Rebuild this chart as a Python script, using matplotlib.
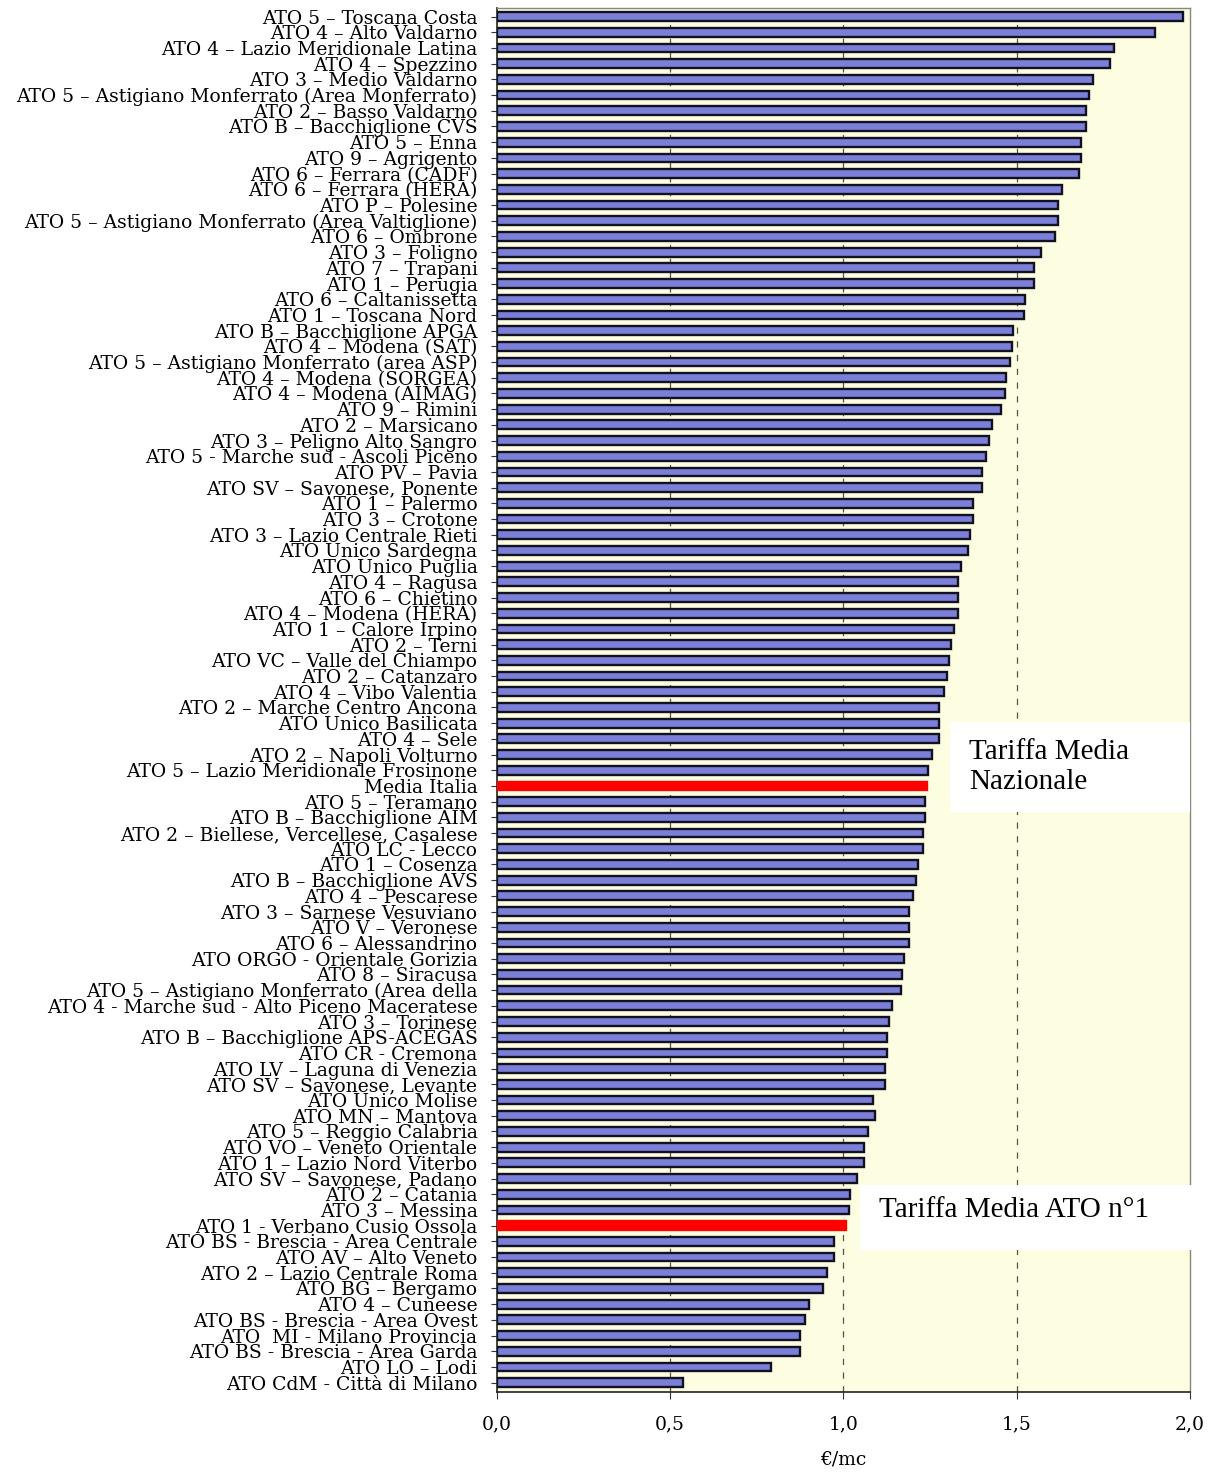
import matplotlib
matplotlib.use("Agg")
import matplotlib.pyplot as plt
from matplotlib.patches import Rectangle

categories = [
    "ATO 5 – Toscana Costa", "ATO 4 – Alto Valdarno", "ATO 4 – Lazio Meridionale Latina",
    "ATO 4 – Spezzino", "ATO 3 – Medio Valdarno", "ATO 5 – Astigiano Monferrato (Area Monferrato)",
    "ATO 2 – Basso Valdarno", "ATO B – Bacchiglione CVS", "ATO 5 – Enna", "ATO 9 – Agrigento",
    "ATO 6 – Ferrara (CADF)", "ATO 6 – Ferrara (HERA)", "ATO P – Polesine",
    "ATO 5 – Astigiano Monferrato (Area Valtiglione)", "ATO 6 – Ombrone", "ATO 3 – Foligno",
    "ATO 7 – Trapani", "ATO 1 – Perugia", "ATO 6 – Caltanissetta", "ATO 1 – Toscana Nord",
    "ATO B – Bacchiglione APGA", "ATO 4 – Modena (SAT)", "ATO 5 – Astigiano Monferrato (area ASP)",
    "ATO 4 – Modena (SORGEA)", "ATO 4 – Modena (AIMAG)", "ATO 9 – Rimini", "ATO 2 – Marsicano",
    "ATO 3 – Peligno Alto Sangro", "ATO 5 - Marche sud - Ascoli Piceno", "ATO PV – Pavia",
    "ATO SV – Savonese, Ponente", "ATO 1 – Palermo", "ATO 3 – Crotone",
    "ATO 3 – Lazio Centrale Rieti", "ATO Unico Sardegna", "ATO Unico Puglia", "ATO 4 – Ragusa",
    "ATO 6 – Chietino", "ATO 4 – Modena (HERA)", "ATO 1 – Calore Irpino", "ATO 2 – Terni",
    "ATO VC – Valle del Chiampo", "ATO 2 – Catanzaro", "ATO 4 – Vibo Valentia",
    "ATO 2 – Marche Centro Ancona", "ATO Unico Basilicata", "ATO 4 – Sele",
    "ATO 2 – Napoli Volturno", "ATO 5 – Lazio Meridionale Frosinone", "Media Italia",
    "ATO 5 – Teramano", "ATO B – Bacchiglione AIM", "ATO 2 – Biellese, Vercellese, Casalese",
    "ATO LC - Lecco", "ATO 1 – Cosenza", "ATO B – Bacchiglione AVS", "ATO 4 – Pescarese",
    "ATO 3 – Sarnese Vesuviano", "ATO V – Veronese", "ATO 6 – Alessandrino",
    "ATO ORGO - Orientale Gorizia", "ATO 8 – Siracusa", "ATO 5 – Astigiano Monferrato (Area della",
    "ATO 4 - Marche sud - Alto Piceno Maceratese", "ATO 3 – Torinese",
    "ATO B – Bacchiglione APS-ACEGAS", "ATO CR - Cremona", "ATO LV – Laguna di Venezia",
    "ATO SV – Savonese, Levante", "ATO Unico Molise", "ATO MN – Mantova",
    "ATO 5 – Reggio Calabria", "ATO VO – Veneto Orientale", "ATO 1 – Lazio Nord Viterbo",
    "ATO SV – Savonese, Padano", "ATO 2 – Catania", "ATO 3 – Messina",
    "ATO 1 - Verbano Cusio Ossola", "ATO BS - Brescia - Area Centrale", "ATO AV – Alto Veneto",
    "ATO 2 – Lazio Centrale Roma", "ATO BG – Bergamo", "ATO 4 – Cuneese",
    "ATO BS - Brescia - Area Ovest", "ATO  MI - Milano Provincia", "ATO BS - Brescia - Area Garda",
    "ATO LO – Lodi", "ATO CdM - Città di Milano",
]

values = [
    1.98, 1.90, 1.78, 1.77, 1.72, 1.71, 1.70, 1.70, 1.685, 1.685,
    1.68, 1.63, 1.62, 1.62, 1.61, 1.57, 1.55, 1.55, 1.525, 1.52,
    1.49, 1.485, 1.48, 1.47, 1.465, 1.455, 1.43, 1.42, 1.41, 1.40,
    1.40, 1.375, 1.375, 1.365, 1.36, 1.34, 1.33, 1.33, 1.33, 1.32,
    1.31, 1.305, 1.30, 1.29, 1.275, 1.275, 1.275, 1.255, 1.245, 1.24,
    1.235, 1.234, 1.229, 1.229, 1.215, 1.21, 1.20, 1.19, 1.19, 1.19,
    1.175, 1.17, 1.165, 1.14, 1.13, 1.125, 1.125, 1.12, 1.12, 1.085,
    1.09, 1.07, 1.06, 1.06, 1.04, 1.02, 1.015, 1.007, 0.973, 0.973,
    0.953, 0.94, 0.90, 0.89, 0.875, 0.874, 0.792, 0.538,
]

highlighted = ["Media Italia", "ATO 1 - Verbano Cusio Ossola"]

x_ticks = [0.0, 0.5, 1.0, 1.5, 2.0]
x_tick_labels = ["0,0", "0,5", "1,0", "1,5", "2,0"]
x_label = "€/mc"
note_nazionale = "Tariffa Media\nNazionale"
note_ato1 = "Tariffa Media ATO n°1"

label_font = ["DejaVu Serif"]
note_font = ["Liberation Serif"]

fig = plt.figure(figsize=(12.16, 14.72), dpi=100)
ax = fig.add_axes([0.4087, 0.0543, 0.9786 - 0.4087, 0.9946 - 0.0543])
ax.set_facecolor("#fdfde2")

ypos = list(range(len(categories)))
colors = ["#ff0000" if c in highlighted else "#7b7fd8" for c in categories]
edges = ["#ff0000" if c in highlighted else "#111122" for c in categories]
ax.barh(ypos, values, height=0.56, color=colors, edgecolor=edges, linewidth=1.7, zorder=3)

ax.set_ylim(len(categories) - 0.4, -0.55)
ax.set_xlim(0, 2.0)

for xv in x_ticks[1:-1]:
    ax.axvline(xv, color="#555544", linewidth=0.9, linestyle=(0, (5, 6)), zorder=1)

ax.set_yticks(ypos)
ax.set_yticklabels(categories, fontfamily=label_font, fontsize=13.5)
ax.set_xticks(x_ticks)
ax.set_xticklabels(x_tick_labels, fontfamily=label_font, fontsize=13.5)
ax.tick_params(axis="y", length=4, width=0.8, pad=10, color="#333333")
ax.tick_params(axis="x", length=5, width=0.8, pad=12, color="#333333")
ax.set_xlabel(x_label, fontfamily=label_font, fontsize=13.5, labelpad=12)

for side in ["left", "bottom"]:
    ax.spines[side].set_color("#222222")
    ax.spines[side].set_linewidth(1.2)
for side in ["top", "right"]:
    ax.spines[side].set_color("#888877")
    ax.spines[side].set_linewidth(1.0)

# white annotation boxes
fig.add_artist(Rectangle((0.781, 0.4484), 0.979 - 0.781, 0.5095 - 0.4484,
                         transform=fig.transFigure, facecolor="white", edgecolor="none", zorder=5))
fig.text(0.797, 0.479, note_nazionale, fontfamily=note_font, fontsize=21,
         va="center", ha="left", linespacing=1.2, zorder=6)

fig.add_artist(Rectangle((0.707, 0.151), 0.980 - 0.707, 0.195 - 0.151,
                         transform=fig.transFigure, facecolor="white", edgecolor="none", zorder=5))
fig.text(0.723, 0.178, note_ato1, fontfamily=note_font, fontsize=21,
         va="center", ha="left", zorder=6)

fig.savefig("out.png", dpi=100, facecolor="white")
